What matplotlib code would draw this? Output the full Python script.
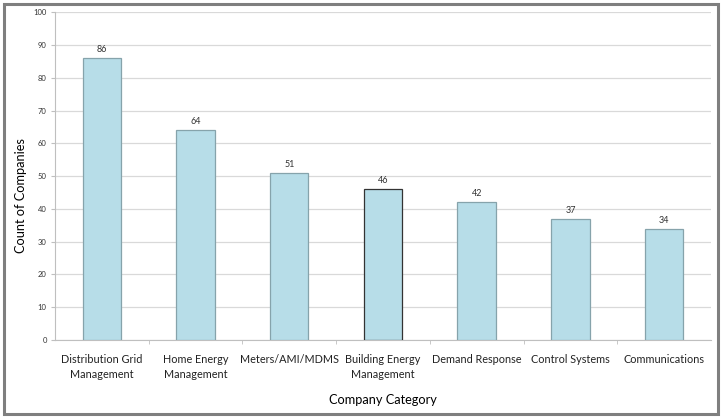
import matplotlib
matplotlib.use("Agg")
import matplotlib.pyplot as plt
from matplotlib.patches import Rectangle

categories = ["Distribution Grid\nManagement", "Home Energy\nManagement", "Meters/AMI/MDMS",
              "Building Energy\nManagement", "Demand Response", "Control Systems", "Communications"]
counts = [86, 64, 51, 46, 42, 37, 34]
yticks = list(range(0, 101, 10))

plt.rcParams['font.family'] = ['Lato', 'DejaVu Sans']

fig = plt.figure(figsize=(7.24, 4.19), dpi=100)
ax = fig.add_axes([0.076, 0.1885, 0.906, 0.7825])

x = list(range(len(categories)))
edges = ['#86A3AB'] * len(categories)
edges[3] = '#333333'
bars = ax.bar(x, counts, width=0.41, color='#B7DDE8', edgecolor=edges, linewidth=0.9, zorder=3)
for xi, v in zip(x, counts):
    ax.text(xi, v + 1.2, str(v), ha='center', va='bottom', fontsize=6.5, color='#333333')

ax.set_xlim(-0.5, len(categories) - 0.5)
ax.set_ylim(0, 100)
ax.set_yticks(yticks)
ax.set_yticklabels([str(t) for t in yticks], fontsize=5.5, color='#333333')
ax.yaxis.grid(True, color='#D9D9D9', linewidth=0.9, zorder=0)
ax.set_xticks(x)
ax.set_xticklabels(categories, fontsize=7.8, color='#222222', linespacing=1.45)
ax.set_xticks([i + 0.5 for i in x[:-1]], minor=True)
ax.tick_params(axis='x', which='major', length=0, pad=10)
ax.tick_params(axis='x', which='minor', length=3, color='#BFBFBF')
ax.tick_params(axis='y', length=3, color='#BFBFBF', pad=3)
for s in ['top', 'right']:
    ax.spines[s].set_visible(False)
ax.spines['left'].set_color('#BFBFBF')
ax.spines['bottom'].set_color('#BFBFBF')

ax.set_xlabel('Company Category', fontsize=9.2, labelpad=10)
ax.set_ylabel('Count of Companies', fontsize=9.2)
ax.yaxis.set_label_coords(-0.042, 0.44)

fig.patches.append(Rectangle((0.006, 0.012), 0.986, 0.978, transform=fig.transFigure,
                             fill=False, edgecolor='#7F7F7F', linewidth=2.2))

fig.savefig('out.png', dpi=100)
